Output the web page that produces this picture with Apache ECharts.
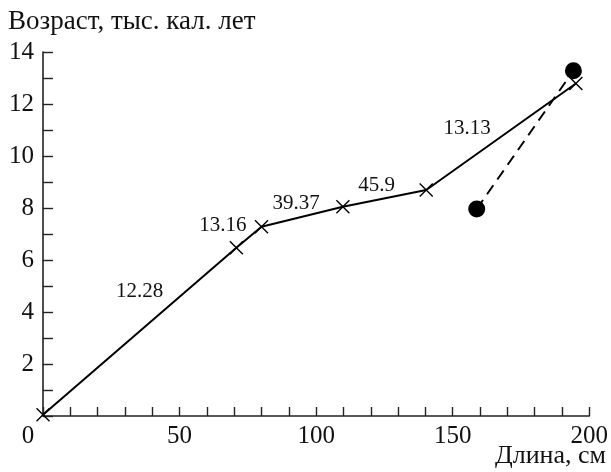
<!DOCTYPE html>
<html><head><meta charset="utf-8">
<script src="https://cdn.jsdelivr.net/npm/echarts@6/dist/echarts.min.js"></script>
<style>html,body{margin:0;padding:0;background:#fff}#c{width:611px;height:472px}</style>
</head><body><div id="c"></div>
<script>
// ---- data ----
const lengthCm = [0, 70.8, 80.0, 109.8, 140.3, 195.1];
const ageKyr   = [0.05, 6.47, 7.28, 8.05, 8.69, 12.79];
const dotLengthCm = [158.8, 194.2];
const dotAgeKyr   = [7.96, 13.28];
const rateLabels  = ['12.28', '13.16', '39.37', '45.9', '13.13'];
const xTickLabels = [0, 50, 100, 150, 200];
const yTickLabels = [2, 4, 6, 8, 10, 12, 14];
const yTitle = 'Возраст, тыс. кал. лет';
const xTitle = 'Длина, см';

// ---- styling ----
const FONT = "'Liberation Serif', 'Times New Roman', serif";
const labelOffsets = [[0, -40], [-26, -12], [-6, -13], [-8, -13], [-34, -8]];

const mainData = lengthCm.map((x, i) => [x, ageKyr[i]]);
const dotData = dotLengthCm.map((x, i) => [x, dotAgeKyr[i]]);
const labelData = rateLabels.map((t, i) => ({
  value: [(lengthCm[i] + lengthCm[i + 1]) / 2, (ageKyr[i] + ageKyr[i + 1]) / 2],
  label: { offset: labelOffsets[i] }
}));

const chart = echarts.init(document.getElementById('c'), null, { renderer: 'canvas' });
chart.setOption({
  animation: false,
  backgroundColor: '#fff',
  grid: { left: 43, right: 21, top: 52, bottom: 56, containLabel: false },
  xAxis: {
    type: 'value', min: 0, max: 200, interval: 10,
    axisLine: { show: true, onZero: false, lineStyle: { color: '#222', width: 1.6 } },
    axisTick: { show: true, inside: true, length: 9, lineStyle: { color: '#222', width: 1.4 } },
    splitLine: { show: false },
    axisLabel: {
      margin: 8, color: '#111', fontFamily: FONT, fontSize: 25,
      formatter: v => xTickLabels.includes(v) ? (v === 0 ? '{z|0}' : String(v)) : '',
      rich: { z: { fontFamily: FONT, fontSize: 25, color: '#111', padding: [0, 30, 0, 0] } }
    }
  },
  yAxis: {
    type: 'value', min: 0, max: 14, interval: 1,
    axisLine: { show: true, onZero: false, lineStyle: { color: '#222', width: 1.6 } },
    axisTick: { show: true, inside: true, length: 10, lineStyle: { color: '#222', width: 1.4 } },
    splitLine: { show: false },
    axisLabel: {
      margin: 9, color: '#111', fontFamily: FONT, fontSize: 25,
      formatter: v => yTickLabels.includes(v) ? String(v) : ''
    }
  },
  graphic: [
    { type: 'text', left: 8, top: 8, silent: true,
      style: { text: yTitle, font: '27px ' + FONT, fill: '#111' } },
    { type: 'text', right: 5, top: 443, silent: true,
      style: { text: xTitle, font: '26px ' + FONT, fill: '#111' } }
  ],
  series: [
    {
      type: 'line', data: mainData, clip: false, silent: true,
      symbol: 'path://M0,0L10,10M10,0L0,10', symbolSize: 13, showSymbol: true,
      lineStyle: { color: '#000', width: 2 },
      itemStyle: { color: 'rgba(0,0,0,0)', borderColor: '#000', borderWidth: 1.4 },
      z: 3
    },
    {
      type: 'line', data: dotData, clip: false, silent: true,
      symbol: 'circle', symbolSize: 17, showSymbol: true,
      lineStyle: { color: '#000', width: 2, type: [11, 7] },
      itemStyle: { color: '#000' },
      z: 4
    },
    {
      type: 'scatter', data: labelData, symbolSize: 0, silent: true,
      itemStyle: { opacity: 1, color: 'rgba(0,0,0,0)' },
      label: {
        show: true, position: 'inside', color: '#111', opacity: 1, fontFamily: FONT, fontSize: 21,
        formatter: p => rateLabels[p.dataIndex]
      },
      z: 5
    }
  ]
});
</script>
</body></html>
